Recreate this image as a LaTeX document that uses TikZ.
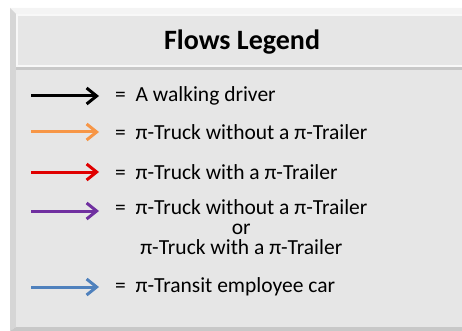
\documentclass[tikz,border=0pt]{standalone}
\usepackage{fontspec}
\setmainfont{Carlito}
\usetikzlibrary{arrows.meta,positioning}
\definecolor{panelgray}{HTML}{E6E6E6}
\definecolor{bevelgray}{HTML}{D6D6D6}
\definecolor{toplight}{HTML}{F4F4F4}
\definecolor{edgegray}{HTML}{C8C8C8}
\definecolor{flowblack}{HTML}{000000}
\definecolor{floworange}{HTML}{F79646}
\definecolor{flowred}{HTML}{E00000}
\definecolor{flowpurple}{HTML}{7030A0}
\definecolor{flowblue}{HTML}{4F81BD}

\begin{document}
\begin{tikzpicture}[x=1pt,y=-1pt,
	flow/.style={line width=3pt,-{Straight Barb[length=10pt,width=16pt,line width=3pt]},shorten >=1pt},
	label/.style={anchor=west,inner sep=0pt,font=\fontsize{21.5}{20}\selectfont}]
	\useasboundingbox (0,0) rectangle (462,331);
	% panel
	\fill[toplight] (10,8) -- (462,8) -- (462,14) -- (16,14) -- cycle;
	\fill[bevelgray] (10,8) -- (16,14) -- (16,327) -- (10,331) -- cycle;
	\fill[edgegray] (10,331) -- (16,327) -- (462,327) -- (462,331) -- cycle;
	\fill[panelgray] (16,70) rectangle (462,327);
	\fill[white!70!panelgray] (16,14) rectangle (462,67);
	\fill[panelgray] (18,16) rectangle (462,65);
	\fill[edgegray] (16,67) rectangle (462,70);
	\node (title) at (242,42) {\fontsize{28}{30}\selectfont\bfseries Flows Legend};

	% legend entries
	\node[label] (t1) at (115,96) {=\ \ A walking driver};
	\node[label] (t2) at (115,132) {=\ \ π-Truck without a π-Trailer};
	\node[label] (t3) at (115,172) {=\ \ π-Truck with a π-Trailer};
	\node[label,anchor=north west,align=center] (t4) at (115,199) {=\ \ π-Truck without a π-Trailer\\or\\π-Truck with a π-Trailer};
	\node[label] (t5) at (115,287) {=\ \ π-Transit employee car};

	\foreach \i in {1,2,3,5}
		\coordinate (s\i) at ([xshift=-84pt]t\i.west);
	\coordinate (s4) at (31,211);

	\draw[flow,flowblack] (s1) -- ++(69,0);
	\draw[flow,floworange] (s2) -- ++(69,0);
	\draw[flow,flowred] (s3) -- ++(69,0);
	\draw[flow,flowpurple] (s4) -- ++(69,0);
	\draw[flow,flowblue] (s5) -- ++(69,0);
\end{tikzpicture}
\end{document}
